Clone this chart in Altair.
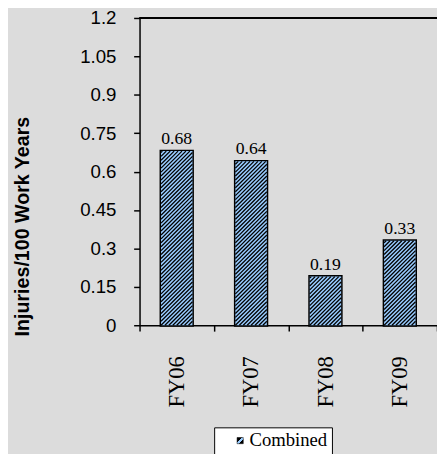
import math
import altair as alt
import pandas as pd

categories = ["FY06", "FY07", "FY08", "FY09"]
values = [0.68, 0.64, 0.19, 0.33]
series_name = "Combined"
y_ticks = [0, 0.15, 0.3, 0.45, 0.6, 0.75, 0.9, 1.05, 1.2]

W, H = 303, 313
YMAX = 1.2
BAR_W = 32
BLUE = "#99ccff"
INK = "#000000"
PERIOD = 4.0        # horizontal hatch period in px
HATCH_W = 1.3       # hatch line width in px
PX = H / YMAX       # px per data unit
STEP = W / len(categories)

# hatch lines ('/' at 45 degrees) clipped to each bar, built from the values;
# x is expressed in category slots (0..4), y in data units
hx, hx2, hy, hy2 = [], [], [], []
for i, v in enumerate(values):
    h = v * PX
    left = i * STEP + STEP / 2 - BAR_W / 2
    k0 = math.ceil(-BAR_W / PERIOD)
    k1 = math.floor(h / PERIOD)
    for k in range(k0, k1 + 1):
        b = k * PERIOD
        X0 = max(0.0, -b)
        X1 = min(float(BAR_W), h - b)
        if X1 - X0 > 0.05:
            hx.append((left + X0) / STEP)
            hx2.append((left + X1) / STEP)
            hy.append((X0 + b) / PX)
            hy2.append((X1 + b) / PX)
hatch_df = pd.DataFrame({"x": hx, "x2": hx2, "y": hy, "y2": hy2})

df = pd.DataFrame({"cat": categories, "val": values, "series": [series_name] * len(categories)})

swatch = {
    "gradient": "linear", "x1": 0, "y1": 0, "x2": 1, "y2": 1,
    "stops": [
        {"offset": 0, "color": INK}, {"offset": 0.36, "color": INK},
        {"offset": 0.36, "color": BLUE}, {"offset": 0.64, "color": BLUE},
        {"offset": 0.64, "color": INK}, {"offset": 1, "color": INK},
    ],
}

x_axis = alt.Axis(
    tickBand="extent",
    labelAngle=270,
    labelFont="Liberation Serif",
    labelFontSize=23,
    labelColor="black",
    labelPadding=25,
    tickSize=6,
    tickColor="black",
    tickWidth=1.5,
    domainColor="black",
    domainWidth=1.5,
)
x_scale = alt.Scale(paddingInner=0, paddingOuter=0)

Y_TITLE = "Injuries/100 Work Years"
y_axis = alt.Axis(
    values=y_ticks,
    format=".2~f",
    labelOverlap=False,
    labelFont="Liberation Sans",
    labelFontSize=19,
    labelColor="black",
    labelPadding=18,
    tickSize=6,
    tickColor="black",
    tickWidth=1.5,
    domainColor="black",
    domainWidth=1.5,
    grid=False,
    titleFont="Liberation Sans",
    titleFontSize=20,
    titleFontWeight="bold",
    titleColor="black",
    titleAngle=270,
    titleAlign="center",
    titleBaseline="middle",
    titleX=-119,
    titleY=212,
)
y_scale = alt.Scale(domain=[0, YMAX], nice=False)


def X(with_axis=False):
    return alt.X(
        "cat:N", sort=categories, title=None, scale=x_scale,
        axis=x_axis if with_axis else None,
    )


def Y(field):
    return alt.Y(field, title=Y_TITLE, scale=y_scale, axis=y_axis)


# outline: drawn under the fill, its outer half shows as the bar border
outline = alt.Chart(df).mark_bar(size=BAR_W, strokeWidth=3, fill=swatch).encode(
    x=X(with_axis=True),
    y=Y("val:Q"),
    stroke=alt.Stroke(
        "series:N",
        scale=alt.Scale(domain=[series_name], range=["black"]),
        legend=alt.Legend(
            title=None,
            orient="none",
            legendX=76,
            legendY=417,
            fillColor="white",
            strokeColor="black",
            padding=4,
            symbolType="square",
            symbolSize=40,
            symbolStrokeWidth=0.5,
            symbolOffset=13,
            labelOffset=0,
            labelFont="Liberation Serif",
            labelFontSize=19,
            labelColor="black",
        ),
    ),
)

fill_bars = alt.Chart(df).mark_bar(size=BAR_W, strokeWidth=0, fill=BLUE).encode(
    x=X(),
    y=Y("val:Q"),
)

hatch = alt.Chart(hatch_df).mark_rule(color=INK, strokeWidth=HATCH_W).encode(
    x=alt.X("x:Q", scale=alt.Scale(domain=[0, len(categories)], nice=False, zero=False), axis=None),
    x2="x2:Q",
    y=Y("y:Q"),
    y2="y2:Q",
)

labels = alt.Chart(df).mark_text(
    baseline="bottom",
    dy=-3,
    font="Liberation Serif",
    fontSize=18,
    color="black",
).encode(
    x=X(),
    y=Y("val:Q"),
    text=alt.Text("val:Q", format=".2f"),
)

top_line = alt.Chart(df).mark_rule(color="black", strokeWidth=1.5).encode(
    y=alt.YDatum(YMAX, title=Y_TITLE, scale=y_scale, axis=y_axis)
)

chart = (
    alt.layer(outline, fill_bars, hatch, labels, top_line)
    .resolve_scale(x="independent")
    .properties(
        width=W,
        height=H,
        background="#dcdcdc",
        autosize=alt.AutoSizeParams(type="none"),
        padding={"left": 134, "top": 6, "right": 0, "bottom": 127},
    )
    .configure_view(stroke=None)
)

chart.save("out.html", embed_options={"renderer": "svg", "actions": False})
